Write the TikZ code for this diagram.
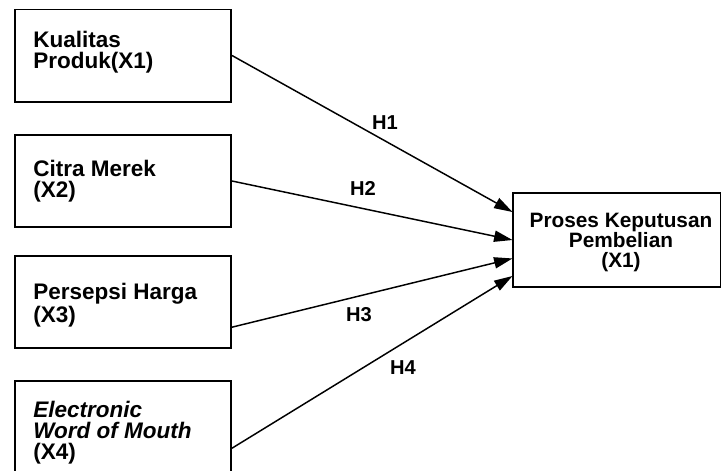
\documentclass[tikz,border=0pt]{standalone}
\usepackage{fontspec}
\setmainfont{Liberation Sans}
\usepackage{tikz}
\usetikzlibrary{arrows.meta}

\tikzset{
  varbox/.style={draw,line width=1.4pt,minimum width=5.4cm,minimum height=2.3cm,inner sep=0},
  vartext/.style={anchor=north west,inner sep=0,align=left,font=\fontsize{16}{14.9}\selectfont\bfseries},
  hyp/.style={font=\fontsize{14.3}{16}\selectfont\bfseries},
  hline/.style={line width=1.05pt,-{Triangle[length=0.46cm,width=0.28cm]}}
}

\begin{document}
\begin{tikzpicture}[x=0.025cm,y=-0.025cm]
\useasboundingbox (0,0) rectangle (721,470);
\node[varbox](kp) at (123,55.5){};
\node[varbox](cm) at (123,181){};
\node[varbox](ph) at (123,302){};
\node[varbox](ew) at (123,427){};
\node[varbox,minimum width=5.175cm,minimum height=2.35cm](pkp) at (617,240){};
\node[vartext](kpt) at (33,30.7){Kualitas\\Produk(X1)};
\node[vartext](cmt) at (33,160){Citra Merek\\(X2)};
\node[vartext](pht) at (33,283){Persepsi Harga\\(X3)};
\node[vartext](ewt) at (33,401){\itshape Electronic\\\itshape Word of Mouth\\(X4)};
\node[vartext,anchor=north,align=center,font=\fontsize{14.8}{14.3}\selectfont\bfseries](pkpt) at (621,213){Proses Keputusan\\Pembelian\\(X1)};
\draw[hline](kp.east)--(pkp.165.4);
\draw[hline](cm.east)--(pkp.180);
\draw[hline](ph.-13.5)--(pkp.190);
\draw[hline](ew.-11)--(pkp.199.7);
\node[hyp](h1) at (385,123){H1};
\node[hyp](h2) at (363,188){H2};
\node[hyp](h3) at (359,315){H3};
\node[hyp](h4) at (403,368){H4};
\end{tikzpicture}
\end{document}
